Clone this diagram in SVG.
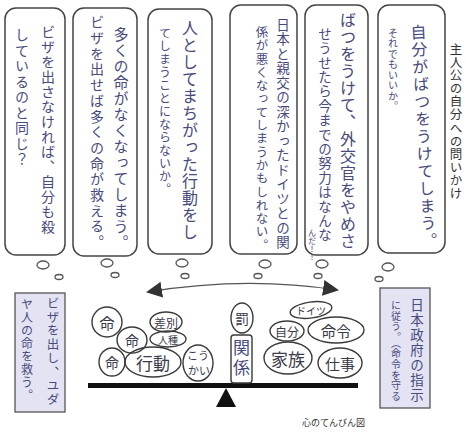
<svg xmlns="http://www.w3.org/2000/svg" width="466" height="432" viewBox="0 0 466 432">
<defs>
<style>
.bub{fill:#fff;stroke:#444;stroke-width:1.5}
.th{fill:#fff;stroke:#555;stroke-width:1.3}
.hw{font-family:"Noto Sans CJK JP",sans-serif;fill:#474a7c;writing-mode:vertical-rl}
.box{fill:#e3e3f3;stroke:#555;stroke-width:1.3}
.ov{fill:none;stroke:#3a3a3a;stroke-width:1.4}
.lbl{font-family:"Noto Sans CJK JP",sans-serif;fill:#3a3a4a;text-anchor:middle;dominant-baseline:central}
.cap{font-family:"Noto Sans CJK JP",sans-serif;fill:#333}
</style>
<marker id="ah" viewBox="0 0 16 16" refX="14" refY="8" markerWidth="16" markerHeight="16" markerUnits="userSpaceOnUse" orient="auto-start-reverse">
<path d="M0,0 L16,8 L0,16 Z" fill="#333"/>
</marker>
</defs>
<rect width="466" height="432" fill="#fff"/>

<g id="title">
<text class="cap" x="456" y="43" font-size="12.5" letter-spacing="0.6" style="writing-mode:vertical-rl">主人公の自分への問いかけ</text>
</g>

<g id="bubble1">
<rect class="bub" x="5" y="8" width="60" height="247" rx="11"/>
<text class="hw" x="48" y="25" font-size="14" letter-spacing="1">ビザを出さなければ、自分も殺</text>
<text class="hw" x="22" y="28" font-size="14" letter-spacing="1.5">しているのと同じ？</text>
<ellipse class="th" cx="43" cy="265" rx="6" ry="4"/>
<ellipse class="th" cx="59" cy="277" rx="4" ry="2.5"/>
</g>

<g id="bubble2">
<rect class="bub" x="73" y="8" width="64" height="248" rx="11"/>
<text class="hw" x="121" y="27" font-size="15" letter-spacing="1">多くの命がなくなってしまう。</text>
<text class="hw" x="97" y="15" font-size="14" letter-spacing="1.7">ビザを出せば多くの命が救える。</text>
<ellipse class="th" cx="107" cy="263" rx="6" ry="4"/>
<ellipse class="th" cx="115" cy="275" rx="4" ry="2.5"/>
</g>

<g id="bubble3">
<rect class="bub" x="148" y="9" width="64" height="245" rx="11"/>
<text class="hw" x="190" y="20" font-size="16" letter-spacing="1">人としてまちがった行動をし</text>
<text class="hw" x="165" y="27" font-size="12" letter-spacing="1">てしまうことにならないか。</text>
<ellipse class="th" cx="182" cy="263" rx="6" ry="4"/>
<ellipse class="th" cx="185" cy="276" rx="4" ry="2.5"/>
</g>

<g id="bubble4">
<rect class="bub" x="230" y="5" width="67" height="249" rx="11"/>
<text class="hw" x="283" y="18" font-size="13.5" letter-spacing="1">日本と親交の深かったドイツとの関</text>
<text class="hw" x="262" y="26" font-size="12.5" letter-spacing="0.8">係が悪くなってしまうかもしれない。</text>
<ellipse class="th" cx="265" cy="264" rx="6" ry="4"/>
<ellipse class="th" cx="258" cy="276" rx="4" ry="2.5"/>
</g>

<g id="bubble5">
<rect class="bub" x="305" y="5" width="63" height="250" rx="11"/>
<text class="hw" x="348" y="12" font-size="16" letter-spacing="1">ばつをうけて、外交官をやめさ</text>
<text class="hw" x="325" y="27" font-size="13.5" letter-spacing="0.9">せうせたら今までの努力はなんな</text>
<text class="hw" x="312" y="229" font-size="8" letter-spacing="0">んだ！！</text>
<ellipse class="th" cx="322" cy="264" rx="6" ry="4"/>
<ellipse class="th" cx="318" cy="276" rx="4" ry="2.5"/>
</g>

<g id="bubble6">
<rect class="bub" x="378" y="5" width="67" height="248" rx="11"/>
<text class="hw" x="418" y="24" font-size="16" letter-spacing="1.4" transform="rotate(-3 418 24)">自分がばつをうけてしまう。</text>
<text class="hw" x="393" y="28" font-size="10" letter-spacing="0.5">それでもいいか。</text>
<ellipse class="th" cx="388" cy="267" rx="6" ry="4"/>
<ellipse class="th" cx="379" cy="279" rx="4" ry="2.5"/>
</g>

<g id="connectors">
<path d="M148 292 Q 245 276 337 290" fill="none" stroke="#555" stroke-width="1.2" marker-start="url(#ah)" marker-end="url(#ah)"/>
</g>

<g id="box-left">
<rect class="box" x="15" y="293" width="50" height="119"/>
<text class="hw" x="53" y="297" font-size="12.5" letter-spacing="1.2">ビザを出し、ユダ</text>
<text class="hw" x="27" y="298" font-size="12" letter-spacing="1">ヤ人の命を救う。</text>
</g>

<g id="box-right">
<rect class="box" x="380" y="288" width="50" height="120"/>
<text class="hw" x="417" y="298" font-size="13.5" letter-spacing="1.5">日本政府の指示</text>
<text class="hw" x="396" y="300" font-size="10" letter-spacing="0.7">に従う。（命令を守る</text>
</g>

<g id="scale">
<rect x="88" y="383" width="270" height="5" fill="#111"/>
<polygon points="226,388 216,407 236,407" fill="#111"/>
</g>

<g id="w-inochi1"><ellipse class="ov" cx="107" cy="322" rx="15" ry="15"/><text class="lbl" x="107" y="322" font-size="15">命</text></g>
<g id="w-inochi2"><ellipse class="ov" cx="132" cy="340" rx="15" ry="13"/><text class="lbl" x="132" y="340" font-size="14">命</text></g>
<g id="w-inochi3"><ellipse class="ov" cx="112" cy="362" rx="13" ry="14"/><text class="lbl" x="112" y="362" font-size="14">命</text></g>
<g id="w-sabetsu"><ellipse class="ov" cx="166" cy="322" rx="16" ry="10"/><text class="lbl" x="166" y="322" font-size="12">差別</text></g>
<g id="w-jinshu"><ellipse class="ov" cx="168" cy="339" rx="18" ry="8"/><text class="lbl" x="168" y="339" font-size="10">人種</text></g>
<g id="w-kodo"><ellipse class="ov" cx="153" cy="362" rx="28" ry="15"/><text class="lbl" x="153" y="362" font-size="17">行動</text></g>
<g id="w-kokai"><ellipse class="ov" cx="198" cy="363" rx="15" ry="18"/><text class="lbl" x="198" y="355" font-size="11">こう</text><text class="lbl" x="199" y="370" font-size="11">かい</text></g>
<g id="w-batsu"><ellipse class="ov" cx="242" cy="318" rx="11" ry="15"/><text class="lbl" x="242" y="318" font-size="14">罰</text></g>
<g id="w-kankei"><rect class="ov" x="231" y="335" width="21" height="48" rx="3"/><text class="hw" x="241.5" y="339" font-size="17" letter-spacing="3" fill="#3a3a4a">関係</text></g>
<g id="w-doitsu"><ellipse class="ov" cx="311" cy="310" rx="21" ry="8" transform="rotate(-8 311 310)"/><text class="lbl" x="311" y="310" font-size="10">ドイツ</text></g>
<g id="w-jibun"><ellipse class="ov" cx="287" cy="331" rx="17" ry="10"/><text class="lbl" x="287" y="331" font-size="12">自分</text></g>
<g id="w-meirei"><ellipse class="ov" cx="336" cy="330" rx="28" ry="13"/><text class="lbl" x="336" y="330" font-size="15">命令</text></g>
<g id="w-kazoku"><ellipse class="ov" cx="288" cy="358" rx="24" ry="16"/><text class="lbl" x="288" y="358" font-size="17">家族</text></g>
<g id="w-shigoto"><ellipse class="ov" cx="340" cy="363" rx="22" ry="15"/><text class="lbl" x="340" y="363" font-size="15">仕事</text></g>

<g id="caption">
<text class="cap" x="302" y="426" font-size="9">心のてんびん図</text>
</g>
</svg>
